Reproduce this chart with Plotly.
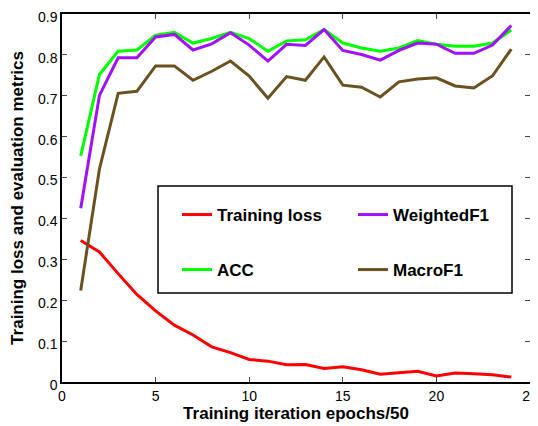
import plotly.graph_objects as go

epochs = list(range(1, 25))
loss = [0.346, 0.318, 0.265, 0.214, 0.174, 0.139, 0.115, 0.086, 0.072, 0.055, 0.051, 0.042,
        0.043, 0.033, 0.037, 0.030, 0.019, 0.023, 0.026, 0.015, 0.022, 0.020, 0.018, 0.012]
acc = [0.553, 0.752, 0.809, 0.812, 0.848, 0.855, 0.829, 0.840, 0.855, 0.840, 0.809, 0.834,
       0.837, 0.862, 0.829, 0.817, 0.809, 0.817, 0.835, 0.826, 0.821, 0.821, 0.829, 0.861]
wf1 = [0.425, 0.701, 0.793, 0.793, 0.844, 0.850, 0.812, 0.827, 0.854, 0.824, 0.785, 0.826,
       0.823, 0.862, 0.811, 0.801, 0.787, 0.811, 0.829, 0.826, 0.804, 0.804, 0.824, 0.872]
mf1 = [0.224, 0.521, 0.706, 0.711, 0.773, 0.773, 0.738, 0.760, 0.785, 0.748, 0.694, 0.747,
       0.738, 0.795, 0.726, 0.721, 0.697, 0.734, 0.741, 0.744, 0.724, 0.719, 0.749, 0.814]

x_ticks = [0, 5, 10, 15, 20, 25]
y_ticks = [0, 0.1, 0.2, 0.3, 0.4, 0.5, 0.6, 0.7, 0.8, 0.9]

FONT = "Liberation Sans, Arial, sans-serif"
LW = 3

fig = go.Figure()
fig.add_trace(go.Scatter(x=epochs, y=loss, mode="lines", name="Training loss",
                         line=dict(color="#ff0000", width=LW), legend="legend"))
fig.add_trace(go.Scatter(x=epochs, y=acc, mode="lines", name="ACC",
                         line=dict(color="#00ff00", width=LW), legend="legend2"))
fig.add_trace(go.Scatter(x=epochs, y=wf1, mode="lines", name="WeightedF1",
                         line=dict(color="#a010f8", width=LW), legend="legend"))
fig.add_trace(go.Scatter(x=epochs, y=mf1, mode="lines", name="MacroF1",
                         line=dict(color="#6b5020", width=LW), legend="legend2"))

legend_common = dict(
    orientation="h", xanchor="left", yanchor="middle",
    bgcolor="rgba(0,0,0,0)", borderwidth=0,
    font=dict(family=FONT, size=17, color="black", weight="bold"),
    entrywidth=131, entrywidthmode="pixels",
)

# page body has an 8px margin, so the figure is drawn 8px smaller and its
# plot area placed so that it lands where the reference's plot area is
fig.update_layout(
    width=530, height=418,
    margin=dict(l=54, r=8, t=6, b=44, autoexpand=False),
    paper_bgcolor="white", plot_bgcolor="white",
    font=dict(family=FONT, size=13, color="black"),
    xaxis=dict(range=[0, 25], tickvals=x_ticks, ticks="inside", ticklen=5,
               showline=True, linecolor="black", linewidth=1.5, mirror="ticks",
               showgrid=False, zeroline=False, automargin=False,
               ticklabeloverflow="allow",
               tickfont=dict(family=FONT, size=14),
               title=dict(text="Training iteration epochs/50",
                          font=dict(family=FONT, size=17, weight="bold"), standoff=2)),
    yaxis=dict(range=[0, 0.9], tickvals=y_ticks, ticks="inside", ticklen=5,
               showline=True, linecolor="black", linewidth=1.5, mirror="ticks",
               showgrid=False, zeroline=False, automargin=False,
               ticklabeloverflow="allow", ticklabelshift=3,
               tickfont=dict(family=FONT, size=14),
               title=dict(text="Training loss and evaluation metrics",
                          font=dict(family=FONT, size=17, weight="bold"), standoff=10)),
    legend=dict(x=0.2457, y=0.4538, **legend_common),
    legend2=dict(x=0.2457, y=0.3043, **legend_common),
    shapes=[dict(type="rect", xref="paper", yref="paper",
                 x0=(158 - 62) / 468, x1=(512 - 62) / 468,
                 y0=(381 - 292) / 368, y1=(381 - 185) / 368,
                 line=dict(color="black", width=1.5), fillcolor="rgba(0,0,0,0)")],
)

fig.write_html("out.html")
